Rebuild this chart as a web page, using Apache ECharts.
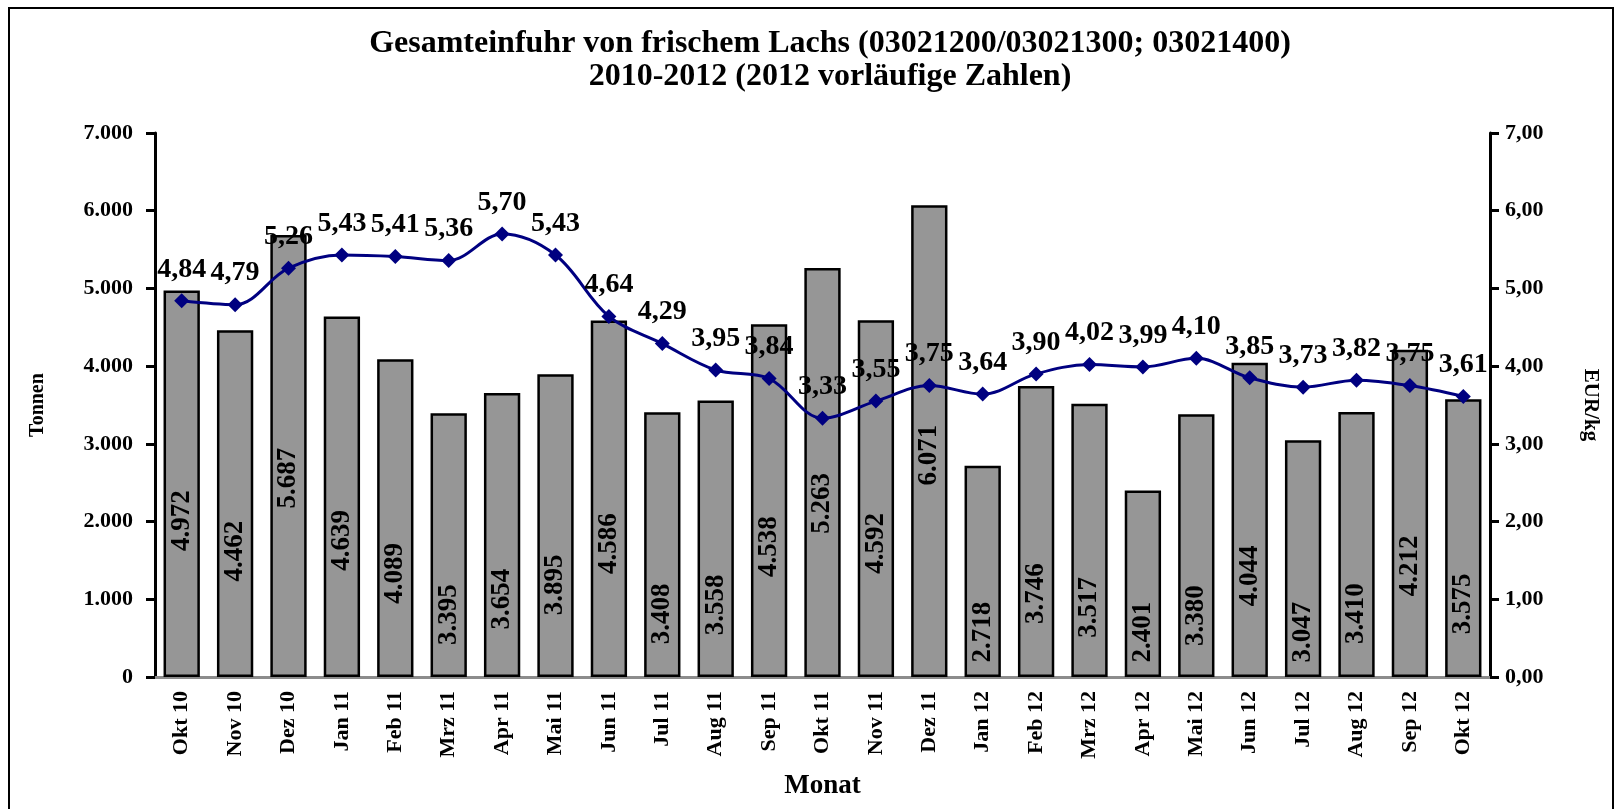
<!DOCTYPE html>
<html>
<head>
<meta charset="utf-8">
<script src="https://cdn.jsdelivr.net/npm/echarts@6/dist/echarts.min.js"></script>
<style>
  html, body { margin: 0; padding: 0; background: #fff; }
  #chart { width: 1621px; height: 809px; }
</style>
</head>
<body>
<div id="chart"></div>
<script>
const categories = ['Okt 10','Nov 10','Dez 10','Jan 11','Feb 11','Mrz 11','Apr 11','Mai 11','Jun 11','Jul 11','Aug 11','Sep 11','Okt 11','Nov 11','Dez 11','Jan 12','Feb 12','Mrz 12','Apr 12','Mai 12','Jun 12','Jul 12','Aug 12','Sep 12','Okt 12'];
const tonnen = [4972,4462,5687,4639,4089,3395,3654,3895,4586,3408,3558,4538,5263,4592,6071,2718,3746,3517,2401,3380,4044,3047,3410,4212,3575];
const preis = [4.84,4.79,5.26,5.43,5.41,5.36,5.70,5.43,4.64,4.29,3.95,3.84,3.33,3.55,3.75,3.64,3.90,4.02,3.99,4.10,3.85,3.73,3.82,3.75,3.61];
const leftTicks = { min: 0, max: 7000, interval: 1000 };
const rightTicks = { min: 0, max: 7, interval: 1 };

const FONT = "'Liberation Serif', 'Times New Roman', serif";
const W = 1621, H = 809;
const gridTop = 133, gridBottom = 132, gridLeft = 155, gridRight = 131;
const plotH = H - gridTop - gridBottom;

function thousands(v) { return String(Math.round(v)).replace(/\B(?=(\d{3})+(?!\d))/g, '.'); }
function comma2(v) { return Number(v).toFixed(2).replace('.', ','); }

// label placement inside bars: move the rotated label down from the bar centre
// (offset is applied in the label's rotated frame, so the x component moves it vertically)
function barLabelOffset(v) {
  const h = v * plotH / leftTicks.max;
  const d = Math.max(0.767 * h - 140, 45);
  return [-(h / 2 - d), 0];
}

const barData = tonnen.map(v => ({ value: v, label: { offset: barLabelOffset(v) } }));

const chart = echarts.init(document.getElementById('chart'), null, { renderer: 'canvas' });
chart.setOption({
  backgroundColor: '#ffffff',
  animation: false,
  textStyle: { fontFamily: FONT },
  title: {
    text: 'Gesamteinfuhr von frischem Lachs (03021200/03021300; 03021400)\n2010-2012 (2012 vorläufige Zahlen)',
    left: 825, top: 22, textAlign: 'center',
    textStyle: { fontFamily: FONT, fontSize: 32, fontWeight: 'bold', color: '#000', lineHeight: 33 }
  },
  graphic: [{
    type: 'rect', silent: true, z: -1,
    shape: { x: 9, y: 8, width: 1604, height: 840 },
    style: { fill: 'none', stroke: '#000', lineWidth: 2 }
  }],
  grid: { left: gridLeft, right: gridRight, top: gridTop, bottom: gridBottom, containLabel: false },
  xAxis: [{
    type: 'category', data: categories, position: 'bottom',
    boundaryGap: true,
    name: 'Monat', nameLocation: 'middle', nameGap: 96,
    nameTextStyle: { fontFamily: FONT, fontSize: 27, fontWeight: 'bold', color: '#000' },
    axisLine: { show: true, lineStyle: { color: '#000', width: 3 } },
    axisTick: { show: false },
    axisLabel: { interval: 0, rotate: 90, margin: 14, fontFamily: FONT, fontSize: 22, fontWeight: 'bold', color: '#000' },
    splitLine: { show: false }
  }, {
    type: 'category', data: categories, position: 'top',
    axisLine: { show: true, lineStyle: { color: '#8c8c8c', width: 3 } },
    axisTick: { show: false }, axisLabel: { show: false }, splitLine: { show: false }
  }],
  yAxis: [{
    type: 'value', position: 'left',
    min: leftTicks.min, max: leftTicks.max, interval: leftTicks.interval,
    name: 'Tonnen', nameLocation: 'middle', nameGap: 107, nameRotate: 90,
    nameTextStyle: { fontFamily: FONT, fontSize: 20, fontWeight: 'bold', color: '#000' },
    axisLine: { show: true, lineStyle: { color: '#000', width: 3 } },
    axisTick: { show: true, inside: false, length: 9, lineStyle: { color: '#000', width: 3 } },
    axisLabel: { margin: 22, formatter: thousands, fontFamily: FONT, fontSize: 22, fontWeight: 'bold', color: '#000' },
    splitLine: { show: false }
  }, {
    type: 'value', position: 'right',
    min: rightTicks.min, max: rightTicks.max, interval: rightTicks.interval,
    name: 'EUR/kg', nameLocation: 'middle', nameGap: 90, nameRotate: -90,
    nameTextStyle: { fontFamily: FONT, fontSize: 21, fontWeight: 'bold', color: '#000' },
    axisLine: { show: true, lineStyle: { color: '#000', width: 3 } },
    axisTick: { show: true, inside: false, length: 9, lineStyle: { color: '#000', width: 3 } },
    axisLabel: { margin: 15, formatter: comma2, fontFamily: FONT, fontSize: 22, fontWeight: 'bold', color: '#000' },
    splitLine: { show: false }
  }],
  series: [{
    name: 'Tonnen', type: 'bar', xAxisIndex: 0, yAxisIndex: 0,
    data: barData,
    barWidth: '68%',
    itemStyle: { color: '#969696', borderColor: '#000', borderWidth: 2.5 },
    label: {
      show: true, position: 'inside', rotate: 90,
      formatter: p => thousands(p.value),
      fontFamily: FONT, fontSize: 27, fontWeight: 'bold', color: '#000'
    },
    z: 2
  }, {
    name: 'EUR/kg', type: 'line', xAxisIndex: 0, yAxisIndex: 1,
    data: preis,
    smooth: 0.35,
    symbol: 'diamond', symbolSize: 15,
    lineStyle: { color: '#000080', width: 3 },
    itemStyle: { color: '#000080' },
    label: {
      show: true, position: 'top', distance: 10,
      formatter: p => comma2(p.value),
      fontFamily: FONT, fontSize: 28, fontWeight: 'bold', color: '#000'
    },
    z: 5
  }]
});
</script>
</body>
</html>
